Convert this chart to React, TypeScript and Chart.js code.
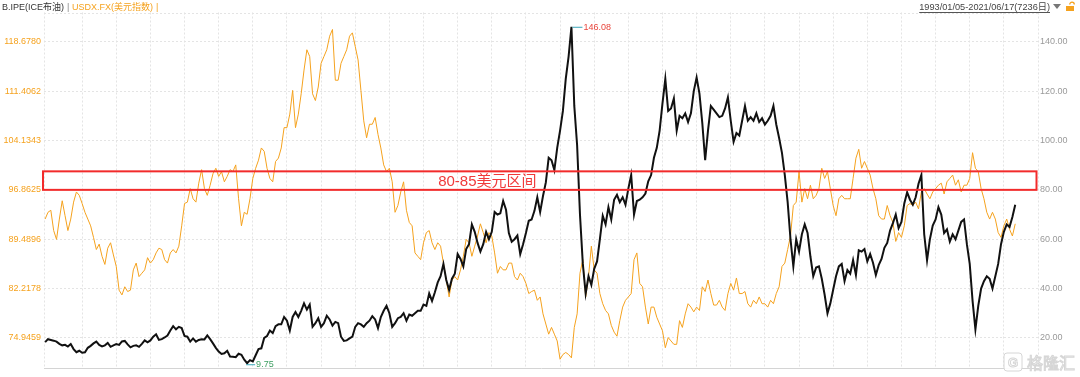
import React, { useEffect, useRef } from 'react';
import { Chart, registerables } from 'chart.js';

Chart.register(...registerables);

// ---- text ----
const brentName = 'B.IPE(ICE布油)';
const usdxName = 'USDX.FX(美元指数)';
const periodText = '1993/01/05-2021/06/17(7236日)';
const bandText = '80-85美元区间';

// ---- series (one point per month, Jan 1993 .. Jun 2021) ----
const brent: number[] = [
  18.3, 19.5, 19.2, 18.9, 18.5, 17.6, 17.0, 17.2, 16.5, 17.5, 15.5, 14.2,
  14.8, 14.0, 14.2, 16.0, 16.8, 17.8, 18.5, 17.2, 16.6, 17.0, 18.0, 16.4,
  17.0, 17.5, 17.2, 18.6, 18.8, 17.4, 16.2, 16.8, 17.0, 16.4, 17.6, 19.0,
  18.2, 19.0, 20.5, 21.5, 19.2, 19.5, 20.2, 21.0, 23.0, 24.8, 23.5, 24.5,
  24.0, 20.8, 20.5, 18.5, 19.8, 18.5, 19.2, 19.5, 19.4, 21.0, 19.5, 17.8,
  16.0, 14.5, 13.5, 13.8, 14.8, 12.5, 12.4, 12.2, 13.6, 13.2, 11.2, 9.75,
  11.0, 10.5, 13.0, 15.5, 15.8, 20.0, 20.8, 23.0, 22.0, 24.8, 25.5,
  25.5, 28.5, 27.0, 23.0, 28.5, 30.5, 28.5, 31.0, 34.0, 31.5, 33.5, 24.5,
  26.0, 28.0, 24.5, 26.0, 29.0, 27.5, 25.0, 26.5, 26.0, 20.5, 18.8, 19.0,
  19.8, 20.5, 24.5, 26.0, 25.5, 24.5, 26.0, 27.0, 28.8, 27.5, 24.0, 28.5,
  31.0, 33.0, 30.0, 24.5, 26.0, 28.0, 28.5, 30.0, 27.0, 29.5, 29.0, 30.0,
  31.0, 31.0, 33.5, 33.0, 38.0, 35.0, 38.5, 42.5, 45.0, 50.0, 43.5, 39.5,
  44.0, 46.0, 54.0, 52.0, 49.0, 56.0, 58.0, 66.0, 63.0, 58.5, 55.0, 58.0,
  63.0, 60.0, 63.0, 71.0, 70.0, 70.5, 75.5, 72.0, 62.5, 59.0, 60.0, 61.5,
  54.0, 58.0, 62.5, 67.5, 68.0, 71.5, 77.0, 71.0, 77.5, 83.0, 93.0, 92.0,
  88.0, 97.0, 104.0, 112.0, 125.0, 134.0, 146.08, 114.0, 98.0, 70.0, 50.0, 38.0,
  45.0, 41.5, 48.0, 51.0, 60.0, 69.5, 66.0, 73.0, 68.0, 76.0, 78.0, 75.0,
  77.0, 74.0, 80.5, 86.0, 70.0, 75.5, 76.0, 77.0, 78.5, 83.5, 86.0, 93.0,
  97.0, 104.0, 115.0, 125.0, 112.0, 113.0, 117.0, 104.0, 110.0, 109.0, 111.0, 107.5,
  111.0, 120.0, 125.5, 119.0, 107.0, 92.0, 104.0, 114.0, 112.5, 111.0, 109.5, 110.0,
  113.0, 117.5, 108.0, 99.5, 103.0, 102.0, 108.0, 114.0, 108.0, 109.5, 108.0, 111.0,
  107.5, 109.0, 106.5, 108.0, 110.0, 114.0, 106.5, 101.0, 95.0, 86.0, 75.0, 60.0,
  49.0, 60.0, 55.0, 62.0, 66.0, 62.5, 53.0, 45.0, 48.5, 49.0, 44.0, 37.5,
  30.0, 34.0, 39.5, 45.0, 49.0, 50.0, 43.0, 47.5, 46.0, 51.5, 45.5, 55.5,
  55.0, 56.0, 51.0, 54.0, 50.5, 45.5, 49.5, 52.0, 56.5, 58.5, 63.5, 66.5,
  70.0, 64.5, 67.0, 74.5, 79.0, 76.0, 74.0, 77.0, 82.5, 86.0, 62.0, 51.5,
  60.0, 65.5, 68.0, 73.0, 70.0, 62.5, 64.0, 59.0, 62.0, 60.0, 63.5, 67.0,
  68.0, 58.0, 50.0, 35.0, 23.5, 33.0, 40.0, 43.0, 45.0, 44.0, 40.0, 45.0,
  50.0, 58.0, 63.0, 66.0, 65.0, 69.0, 74.0,
];

const usdx: number[] = [
  92.5, 93.5, 93.8, 90.8, 89.5, 92.5, 95.2, 93.0, 90.8, 92.5, 95.0, 96.5,
  96.0, 94.8, 93.5, 92.5, 91.5, 89.8, 88.0, 88.8, 87.0, 85.8, 88.2, 89.0,
  87.2, 85.5, 82.0, 81.3, 82.5, 81.8, 82.0, 85.0, 86.0, 84.0, 84.5, 85.0,
  86.8, 86.0, 86.5, 87.5, 88.2, 88.0, 86.5, 86.0, 87.5, 88.0, 87.5, 88.5,
  91.5, 94.8, 95.0, 97.0, 95.5, 95.0, 97.8, 99.8, 97.0, 96.0, 97.5, 99.2,
  100.0, 98.8, 99.5, 98.0, 98.8, 99.8, 99.5, 100.5, 95.5, 91.5, 93.5, 93.2,
  95.5, 98.5, 100.0, 101.2, 103.0, 102.5, 100.0, 98.5, 98.0, 101.0, 101.5,
  103.0, 106.0, 106.0, 108.0, 111.5, 106.0, 108.0, 111.0, 114.5, 117.5, 116.5, 111.0,
  110.0, 112.0, 115.5, 116.5, 117.5, 119.5, 120.5, 113.0, 113.0, 115.5, 116.5, 117.5,
  119.5, 120.0, 118.0, 116.0, 111.5, 107.0, 104.5, 106.5, 106.5, 107.5, 105.0, 103.0,
  100.5, 99.5, 100.0, 98.0, 93.5, 94.5, 96.5, 98.0, 93.8, 92.0, 91.5, 87.5,
  87.0, 86.5, 89.0, 90.5, 90.8, 89.0, 88.0, 89.0, 88.5, 86.0, 83.5, 81.0,
  83.5, 84.0, 83.5, 85.0, 87.0, 89.5, 89.0, 87.0, 88.5, 90.0, 91.8, 90.5,
  89.0, 90.5, 90.0, 87.5, 84.5, 85.5, 85.0, 85.0, 86.0, 86.0, 84.0, 83.5,
  84.5, 84.0, 83.0, 81.5, 81.8, 82.0, 80.5, 81.0, 78.5, 77.0, 75.5, 76.5,
  75.5, 74.5, 71.8, 72.5, 72.8, 72.5, 72.0, 76.5, 78.5, 84.5, 86.5, 81.0,
  84.0, 88.5, 85.0, 84.5, 81.5, 80.0, 79.0, 78.5, 76.8, 75.8, 75.2, 77.5,
  79.5, 80.5, 81.0, 81.5, 86.5, 87.5, 83.0, 82.5, 79.5, 77.0, 79.5, 79.5,
  78.0, 77.0, 76.0, 73.5, 75.0, 74.5, 74.0, 74.0, 77.5, 76.5, 78.5, 80.0,
  79.5, 78.8, 79.5, 79.0, 82.5, 81.8, 83.5, 81.5, 79.8, 79.8, 80.5, 79.5,
  79.0, 81.5, 83.0, 82.0, 83.8, 81.5, 81.5, 81.8, 80.0, 79.5, 80.5, 80.0,
  81.0, 80.0, 80.0, 79.5, 80.5, 80.0, 81.5, 82.5, 85.5, 86.0, 88.0, 90.0,
  94.5, 95.0, 99.5, 95.0, 97.0, 95.5, 97.5, 95.5, 96.0, 97.0, 100.0, 98.5,
  99.5, 97.0, 94.5, 93.0, 95.5, 96.0, 95.5, 95.5, 95.5, 98.5, 101.5, 102.8,
  100.0, 101.0, 100.0, 99.0, 97.0, 95.5, 93.0, 92.5, 92.5, 94.5, 93.0, 92.0,
  89.2, 90.5, 89.8, 91.5, 94.5, 94.8, 94.5, 95.0, 94.0, 96.5, 97.0, 96.2,
  95.5, 96.5, 97.0, 97.5, 97.8, 96.2, 98.0, 98.5, 99.0, 97.5, 98.3, 96.5,
  97.5, 97.5, 98.5, 102.3, 100.0, 99.5, 97.0, 95.5, 93.5, 92.5, 93.5, 92.5,
  90.5, 89.8, 91.5, 92.5, 91.0, 90.0, 91.8,
];

// ---- axes ----
const rightTicks = [20, 40, 60, 80, 100, 120, 140];
const leftTickLabels = ['74.9459', '82.2178', '89.4896', '96.8625', '104.1343', '111.4062', '118.6780'];
const rightRange = [7.58, 151.86];
const leftRange = [70.418, 123.002];
const band = [80, 87.5];

const FONT = '"Liberation Sans", Arial, "Noto Sans CJK SC", sans-serif';
const ORANGE = '#F5A21E';

const overlay = {
  id: 'overlay',
  afterDraw(chart: any) {
    const { ctx, chartArea, scales } = chart;
    const yR = scales.yRight;
    const xs = scales.x;
    const L = chartArea.left, R = chartArea.right;
    ctx.save();

    // top dotted border
    ctx.strokeStyle = '#e4e4e4';
    ctx.lineWidth = 1;
    ctx.setLineDash([2, 2]);
    ctx.beginPath();
    ctx.moveTo(L, Math.round(chartArea.top) + 0.5);
    ctx.lineTo(R, Math.round(chartArea.top) + 0.5);
    ctx.stroke();
    ctx.setLineDash([]);

    // red band
    const yTop = yR.getPixelForValue(band[1]);
    const yBot = yR.getPixelForValue(band[0]);
    ctx.strokeStyle = '#F22B2B';
    ctx.lineWidth = 2;
    ctx.strokeRect(L - 1, yTop, R - L - 0.5, yBot - yTop);
    ctx.fillStyle = '#F03A3A';
    ctx.font = '15px ' + FONT;
    ctx.textAlign = 'center';
    ctx.textBaseline = 'middle';
    ctx.fillText(bandText, L + 0.446 * (R - L), (yTop + yBot) / 2 + 1);

    // max / min labels
    const maxV = Math.max(...brent);
    const minV = Math.min(...brent);
    const iMax = brent.indexOf(maxV);
    const iMin = brent.indexOf(minV);
    ctx.font = '9px ' + FONT;
    ctx.textAlign = 'left';
    const pMaxX = xs.getPixelForValue(iMax), pMaxY = yR.getPixelForValue(maxV);
    ctx.strokeStyle = '#3AA6B9';
    ctx.lineWidth = 1;
    ctx.beginPath();
    ctx.moveTo(pMaxX + 1, pMaxY + 0.5);
    ctx.lineTo(pMaxX + 11, pMaxY + 0.5);
    ctx.stroke();
    ctx.fillStyle = '#E8453C';
    ctx.fillText(maxV.toFixed(2), pMaxX + 12, pMaxY + 1);
    const pMinX = xs.getPixelForValue(iMin), pMinY = yR.getPixelForValue(minV);
    ctx.beginPath();
    ctx.moveTo(pMinX - 1, pMinY + 1.5);
    ctx.lineTo(pMinX + 8, pMinY + 1.5);
    ctx.stroke();
    ctx.fillStyle = '#3E9E62';
    ctx.fillText(String(minV), pMinX + 9, pMinY + 1);

    // legend (top-left)
    ctx.font = '9px ' + FONT;
    ctx.textBaseline = 'middle';
    let x = 2;
    const ty = 7.5;
    ctx.fillStyle = '#333';
    ctx.fillText(brentName, x, ty);
    x += ctx.measureText(brentName).width + 3;
    ctx.fillStyle = '#888';
    ctx.fillText('|', x, ty);
    x += 5;
    ctx.fillStyle = ORANGE;
    ctx.fillText(usdxName, x, ty);
    x += ctx.measureText(usdxName).width + 3;
    ctx.fillText('|', x, ty);

    // period (top-right)
    ctx.font = '9.2px ' + FONT;
    ctx.textAlign = 'right';
    ctx.fillStyle = '#444';
    const pr = 1050;
    ctx.fillText(periodText, pr, 7);
    const pw = ctx.measureText(periodText).width;
    ctx.strokeStyle = '#555';
    ctx.beginPath();
    ctx.moveTo(pr - pw, 12.5);
    ctx.lineTo(pr, 12.5);
    ctx.stroke();
    // triangle
    ctx.fillStyle = '#777';
    ctx.beginPath();
    ctx.moveTo(1053, 4);
    ctx.lineTo(1061, 4);
    ctx.lineTo(1057, 9);
    ctx.closePath();
    ctx.fill();
    // lock
    ctx.fillStyle = ORANGE;
    ctx.fillRect(1066, 6, 8, 5);
    ctx.strokeStyle = ORANGE;
    ctx.lineWidth = 1.3;
    ctx.beginPath();
    ctx.arc(1072, 4.5, 2.3, Math.PI, 0);
    ctx.stroke();

    // watermark
    ctx.lineWidth = 1;
    ctx.strokeStyle = '#d6d6d6';
    ctx.fillStyle = 'rgba(255,255,255,0.9)';
    const bx = 1004, by = 353, bw = 18, bh = 18;
    ctx.beginPath();
    ctx.moveTo(bx + 3, by);
    ctx.lineTo(bx + bw - 3, by);
    ctx.quadraticCurveTo(bx + bw, by, bx + bw, by + 3);
    ctx.lineTo(bx + bw, by + bh - 3);
    ctx.quadraticCurveTo(bx + bw, by + bh, bx + bw - 3, by + bh);
    ctx.lineTo(bx + 3, by + bh);
    ctx.quadraticCurveTo(bx, by + bh, bx, by + bh - 3);
    ctx.lineTo(bx, by + 3);
    ctx.quadraticCurveTo(bx, by, bx + 3, by);
    ctx.closePath();
    ctx.fill();
    ctx.stroke();
    ctx.font = 'bold 13px ' + FONT;
    ctx.textAlign = 'center';
    ctx.strokeText('G', bx + bw / 2, by + bh / 2 + 1);
    ctx.font = '16px "Noto Sans CJK SC", sans-serif';
    ctx.textAlign = 'left';
    ctx.fillText('格隆汇', 1027, 363);
    ctx.strokeText('格隆汇', 1027, 363);
    ctx.restore();
  },
};

export default function App() {
  const ref = useRef<HTMLCanvasElement | null>(null);

  useEffect(() => {
    document.body.style.margin = '0';
    const canvas = ref.current;
    if (!canvas) return;
    const xMin = -0.4;
    const xMax = 349;
    const chart = new Chart(canvas, {
      type: 'line',
      data: {
        datasets: [
          {
            label: brentName,
            data: brent.map((v, i) => ({ x: i, y: v })),
            borderColor: '#111111',
            borderWidth: 2,
            pointRadius: 0,
            tension: 0,
            yAxisID: 'yRight',
          },
          {
            label: usdxName,
            data: usdx.map((v, i) => ({ x: i, y: v })),
            borderColor: ORANGE,
            borderWidth: 1,
            pointRadius: 0,
            tension: 0,
            yAxisID: 'yLeft',
          },
        ],
      },
      options: {
        responsive: false,
        devicePixelRatio: 1,
        animation: false,
        layout: { padding: { top: 12.5, left: 0, right: 0, bottom: 0 } },
        plugins: { legend: { display: false }, tooltip: { enabled: false } },
        scales: {
          x: {
            type: 'linear',
            min: xMin,
            max: xMax,
            afterBuildTicks: (s: any) => {
              const t = [{ value: xMin }];
              for (let v = 13; v <= xMax; v += 12) t.push({ value: v });
              s.ticks = t;
            },
            afterFit: (s: any) => { s.height = 4; },
            ticks: { display: false },
            grid: { color: '#e4e4e4', lineWidth: 1, drawTicks: false },
            border: { display: true, color: '#d4d4d4', width: 1, dash: [2, 2] },
          },
          yLeft: {
            type: 'linear',
            position: 'left',
            min: leftRange[0],
            max: leftRange[1],
            afterBuildTicks: (s: any) => {
              s.ticks = leftTickLabels.map((l) => ({ value: parseFloat(l) }));
            },
            afterFit: (s: any) => { s.width = 44; },
            ticks: {
              color: ORANGE,
              font: { size: 9, family: FONT },
              padding: 3,
              callback: (_v: any, i: number) => leftTickLabels[i],
            },
            grid: { display: false, drawTicks: false },
            border: { display: false },
          },
          yRight: {
            type: 'linear',
            position: 'right',
            min: rightRange[0],
            max: rightRange[1],
            afterBuildTicks: (s: any) => {
              s.ticks = rightTicks.map((v) => ({ value: v }));
            },
            afterFit: (s: any) => { s.width = 42; },
            ticks: {
              color: '#9a9a9a',
              font: { size: 9, family: FONT },
              padding: 2,
              callback: (v: any) => Number(v).toFixed(2),
            },
            grid: { color: '#e4e4e4', lineWidth: 1, drawTicks: false },
            border: { display: false, dash: [2, 2] },
          },
        },
      },
      plugins: [overlay],
    });
    return () => chart.destroy();
  }, []);

  return (
    <div style={{ width: 1080, height: 377 }}>
      <canvas ref={ref} width={1080} height={377} style={{ display: 'block' }} />
    </div>
  );
}
